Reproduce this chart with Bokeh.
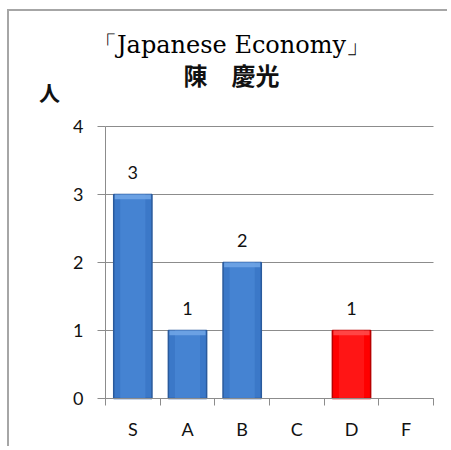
from bokeh.plotting import figure
from bokeh.models import Range1d, FixedTicker, Label, ColumnDataSource
from bokeh.core.properties import value
from bokeh.embed import file_html
from bokeh.resources import INLINE

# ---- data ----
grades = ["S", "A", "B", "C", "D", "F"]
counts = [3, 1, 2, 0, 1, 0]
bar_colors = ["#3b78c8", "#3b78c8", "#3b78c8", "#3b78c8", "#ff0000", "#3b78c8"]
edge_colors = ["#2a5a9c", "#2a5a9c", "#2a5a9c", "#2a5a9c", "#b80000", "#2a5a9c"]
shine_colors = ["#4a88d6", "#4a88d6", "#4a88d6", "#4a88d6", "#ff1e1e", "#4a88d6"]
bevel_colors = ["#6fa4e6", "#6fa4e6", "#6fa4e6", "#6fa4e6", "#ff4a4a", "#6fa4e6"]
y_ticks = [0, 1, 2, 3, 4]
title_line1 = "「Japanese Economy」"
title_line2 = "陳　慶光"
unit_label = "人"

n = len(grades)
ymax = max(y_ticks)
xs = [i + 0.5 for i in range(n)]
keep = [i for i, c in enumerate(counts) if c > 0]
src = ColumnDataSource(dict(x=[xs[i] for i in keep],
                            top=[counts[i] for i in keep],
                            bevel_bottom=[counts[i] - 0.07 for i in keep],
                            fill=[bar_colors[i] for i in keep],
                            edge=[edge_colors[i] for i in keep],
                            shine=[shine_colors[i] for i in keep],
                            bevel=[bevel_colors[i] for i in keep],
                            t=[str(counts[i]) for i in keep]))

# frame covers the whole canvas; axes are pinned with fixed_location
W, H = 440, 437
px_x = 328 / n      # pixels per category
px_y = 272 / ymax   # pixels per unit
x0, y0 = 96, 50     # pixel position of the origin inside the canvas (from left / bottom)
p = figure(width=W, height=H, output_backend="svg", toolbar_location=None,
           x_range=Range1d(-x0 / px_x, (W - x0) / px_x),
           y_range=Range1d(-y0 / px_y, (H - y0) / px_y),
           min_border=0, min_border_left=0, min_border_right=0,
           min_border_top=0, min_border_bottom=0)
p.styles = {"border-top": "2px solid #a6a6a6", "border-left": "2px solid #a6a6a6",
            "margin-left": "7px", "margin-top": "9px"}
p.outline_line_color = None
p.background_fill_color = "white"
p.border_fill_color = "white"
p.grid.visible = False

# horizontal grid lines limited to the category span
p.segment(x0=[0] * len(y_ticks), x1=[n] * len(y_ticks), y0=y_ticks, y1=y_ticks,
          line_color="#8c8c8c", line_width=1)

p.vbar(x="x", top="top", width=0.7, bottom=0, fill_color="fill",
       line_color="edge", line_width=1.5, source=src)
p.vbar(x="x", top="top", width=0.46, bottom=0, fill_color="shine",
       line_color=None, fill_alpha=0.7, source=src)
p.vbar(x="x", top="top", bottom="bevel_bottom", width=0.66, fill_color="bevel",
       line_color=None, fill_alpha=0.9, source=src)

p.text(x="x", y="top", text="t", source=src, y_offset=-22,
       text_align="center", text_baseline="middle",
       text_font=value("Lato"), text_font_size="18px", text_color="#111111")

# y axis
p.yaxis.fixed_location = 0
p.yaxis.bounds = (0, ymax)
p.yaxis.ticker = FixedTicker(ticks=y_ticks)
p.yaxis.axis_line_color = "#8c8c8c"
p.yaxis.major_tick_line_color = "#8c8c8c"
p.yaxis.major_tick_out = 8
p.yaxis.major_tick_in = 0
p.yaxis.minor_tick_line_color = None
p.yaxis.major_label_standoff = 14
p.yaxis.major_label_text_font = "Lato"
p.yaxis.major_label_text_font_size = "18px"
p.yaxis.major_label_text_color = "#111111"

# x axis
p.xaxis.fixed_location = 0
p.xaxis.bounds = (0, n)
p.xaxis.ticker = FixedTicker(ticks=xs, minor_ticks=list(range(n + 1)))
p.xaxis.major_label_overrides = {x: g for x, g in zip(xs, grades)}
p.xaxis.axis_line_color = "#8c8c8c"
p.xaxis.major_tick_line_color = None
p.xaxis.minor_tick_line_color = "#8c8c8c"
p.xaxis.minor_tick_out = 7
p.xaxis.minor_tick_in = 0
p.xaxis.major_tick_out = 7
p.xaxis.major_label_standoff = 12
p.xaxis.major_label_text_font = "Lato"
p.xaxis.major_label_text_font_size = "18px"
p.xaxis.major_label_text_color = "#111111"

# titles (screen units: from frame left / bottom)
p.add_layout(Label(x=222, y=404, x_units="screen", y_units="screen", text=title_line1,
                   text_font="DejaVu Serif", text_font_size="24px",
                   text_align="center", text_baseline="middle", text_color="#000000"))
p.add_layout(Label(x=222, y=374, x_units="screen", y_units="screen", text=title_line2,
                   text_font="Noto Sans CJK JP", text_font_style="bold", text_font_size="24px",
                   text_align="center", text_baseline="middle", text_color="#111111"))
p.add_layout(Label(x=40, y=357, x_units="screen", y_units="screen", text=unit_label,
                   text_font="Noto Sans CJK JP", text_font_style="bold", text_font_size="21px",
                   text_align="center", text_baseline="middle", text_color="#111111"))

open("out.html", "w").write(file_html(p, INLINE))
